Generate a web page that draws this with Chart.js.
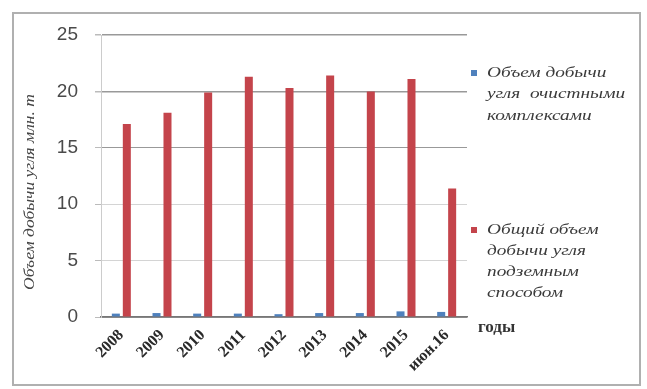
<!DOCTYPE html>
<html>
<head>
<meta charset="utf-8">
<script src="https://cdn.jsdelivr.net/npm/chart.js@4/dist/chart.umd.min.js"></script>
<style>
html,body{margin:0;padding:0;background:#fff;}
#wrap{position:relative;width:647px;height:389px;}
</style>
</head>
<body>
<div id="wrap"><canvas id="c" width="647" height="389"></canvas></div>
<script>
const categories = ['2008','2009','2010','2011','2012','2013','2014','2015','июн.16'];
const seamMining = [0.3,0.35,0.3,0.3,0.25,0.35,0.35,0.5,0.45];
const undergroundTotal = [17.1,18.1,19.9,21.3,20.3,21.4,20.0,21.1,11.4];
const seriesNames = [
  ['Объем добычи','угля  очистными','комплексами'],
  ['Общий объем','добычи угля','подземным','способом']
];
const yTitle = 'Объем добычи угля млн. т';
const xTitle = 'годы';
const seriesColors = ['#4F81BD','#C4444B'];

const deco = {
  id:'deco',
  afterDraw(chart){
    const ctx = chart.ctx, a = chart.chartArea;
    ctx.save();
    ctx.strokeStyle = '#b0b0b0'; ctx.lineWidth = 2;
    ctx.strokeRect(13,13,627,372);
    ctx.save();
    ctx.translate(30,(a.top+a.bottom)/2+16);
    ctx.rotate(-Math.PI/2);
    ctx.scale(1.25,1);
    ctx.font = 'italic 14px "Liberation Serif"';
    ctx.fillStyle = '#444';
    ctx.textAlign='center'; ctx.textBaseline='middle';
    ctx.fillText(yTitle,0,0);
    ctx.restore();
    ctx.font = 'bold 17px "Liberation Serif"';
    ctx.fillStyle = '#333';
    ctx.textAlign='left'; ctx.textBaseline='middle';
    ctx.fillText(xTitle,a.right+11,a.bottom+11);
    const starts = [73,230];
    const gaps = [21.5,21];
    seriesNames.forEach((lines,i)=>{
      const y0 = starts[i];
      ctx.fillStyle = seriesColors[i];
      ctx.fillRect(471,y0-3,6,6);
      lines.forEach((t,j)=>{
        ctx.save();
        ctx.translate(487,y0+j*gaps[i]);
        ctx.scale(1.38,1);
        ctx.font='italic 14px "Liberation Serif"';
        ctx.fillStyle='#3a3a3a';
        ctx.textAlign='left'; ctx.textBaseline='middle';
        ctx.fillText(t,0,0);
        ctx.restore();
      });
    });
    ctx.restore();
  }
};

new Chart(document.getElementById('c'),{
  type:'bar',
  data:{
    labels:categories,
    datasets:[
      {label:seriesNames[0].join(' '),data:seamMining,backgroundColor:seriesColors[0],barPercentage:0.73,categoryPercentage:0.54},
      {label:seriesNames[1].join(' '),data:undergroundTotal,backgroundColor:seriesColors[1],barPercentage:0.73,categoryPercentage:0.54}
    ]
  },
  options:{
    responsive:false,
    animation:false,
    devicePixelRatio:1,
    layout:{padding:{left:0,top:35,right:180,bottom:0}},
    plugins:{legend:{display:false},tooltip:{enabled:false}},
    scales:{
      x:{
        grid:{display:false,drawTicks:false},
        border:{display:true,color:'#777',width:1.5},
        ticks:{maxRotation:45,minRotation:45,autoSkip:false,padding:9,color:'#2a2a2a',font:{family:'"Liberation Serif"',size:16,weight:'bold'}},
        afterFit(s){s.height=72;}
      },
      y:{
        min:0,max:25,
        grid:{
          color:(c)=> (c.tick && (c.tick.value===5||c.tick.value===10)) ? '#d4d4d4' : '#999',
          lineWidth:(c)=> (c.tick && (c.tick.value===20||c.tick.value===25)) ? 1.5 : 1,
          tickLength:6,tickColor:'#bbb'
        },
        border:{display:true,color:'#ccc'},
        ticks:{stepSize:5,padding:17,color:'#4a4a4a',font:{family:'"Liberation Sans"',size:19}},
        afterFit(s){s.width=101;}
      }
    }
  },
  plugins:[deco]
});
</script>
</body>
</html>
